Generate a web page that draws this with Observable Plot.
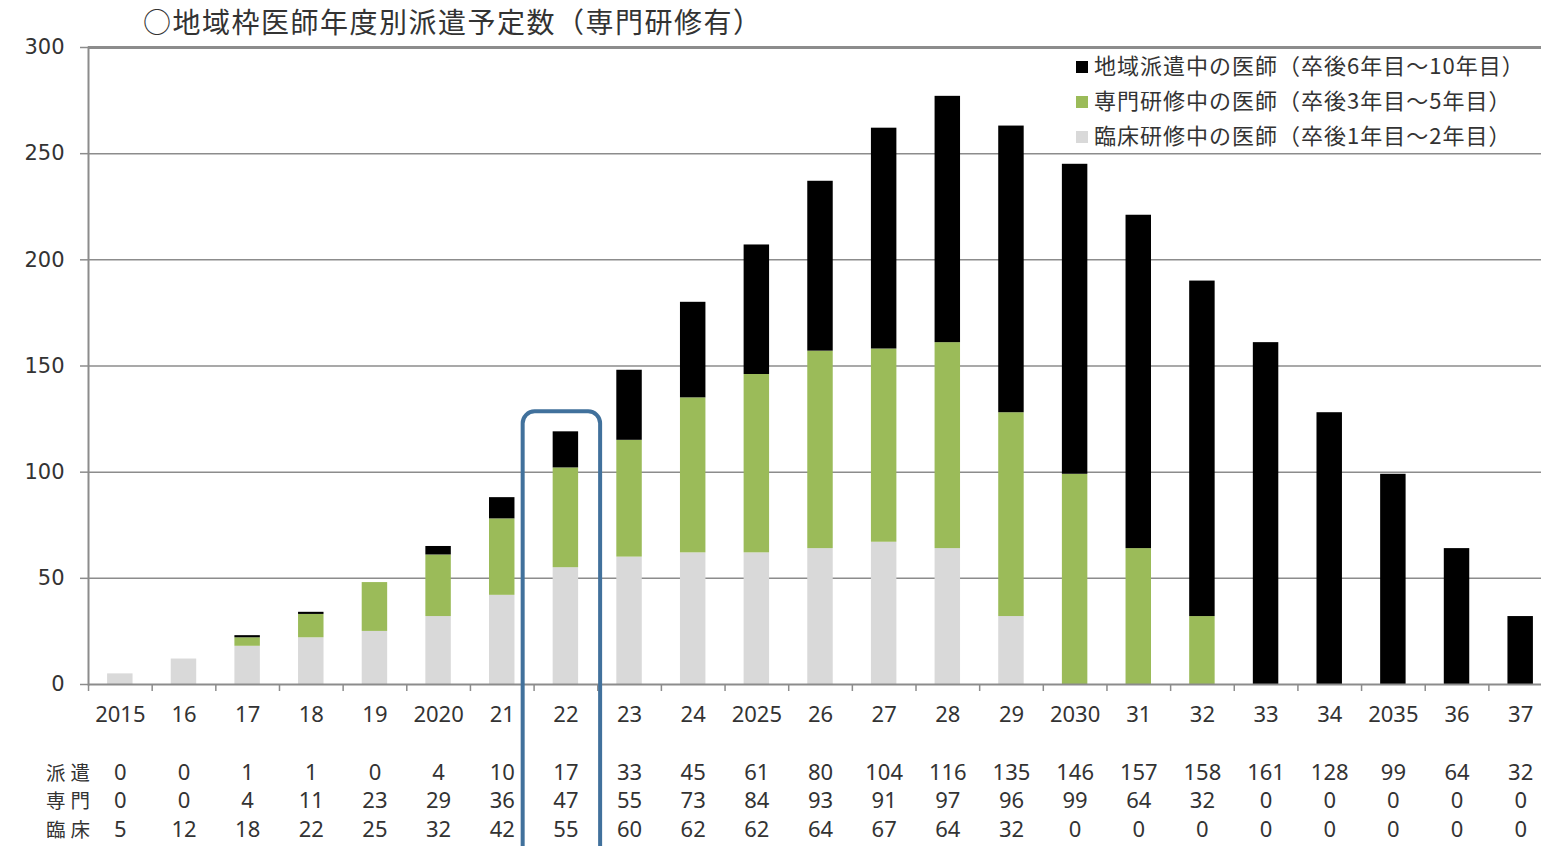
<!DOCTYPE html>
<html>
<head>
<meta charset="utf-8">
<script src="https://cdn.jsdelivr.net/npm/d3@7"></script>
<script src="https://cdn.jsdelivr.net/npm/@observablehq/plot@0.6"></script>
<style>
  html, body { margin: 0; padding: 0; background: #fff; overflow: hidden; }
  #wrap { position: relative; width: 1541px; height: 846px; overflow: hidden; }
  #title { position: absolute; left: 143px; top: 1px; font: 28px "Noto Sans CJK JP", sans-serif; color: #333; white-space: nowrap; letter-spacing: 1.5px; }
  #legend { position: absolute; left: 1070px; top: 47px; width: 480px; padding: 0 0 0 6px; }
  .item { font: 22px "Noto Sans CJK JP", sans-serif; color: #333; height: 35px; line-height: 35px; white-space: nowrap; letter-spacing: 1px; }
  .sw { display: inline-block; width: 12px; height: 12px; margin-right: 6px; vertical-align: 1px; }
  #chart { position: absolute; left: 0; top: 0; }
  #chart svg { max-width: none !important; }
  .rowlabel text { letter-spacing: 5px; }
</style>
</head>
<body>
<div id="wrap">
  <div id="chart"></div>
  <div id="title">○地域枠医師年度別派遣予定数（専門研修有）</div>
  <div id="legend"></div>
</div>
<script>
const years = ["2015","16","17","18","19","2020","21","22","23","24","2025","26","27","28","29","2030","31","32","33","34","2035","36","37"];
const haken  = [0,0,1,1,0,4,10,17,33,45,61,80,104,116,135,146,157,158,161,128,99,64,32];
const senmon = [0,0,4,11,23,29,36,47,55,73,84,93,91,97,96,99,64,32,0,0,0,0,0];
const rinsho = [5,12,18,22,25,32,42,55,60,62,62,64,67,64,32,0,0,0,0,0,0,0,0];
const seriesNames = ["臨床研修中の医師（卒後1年目～2年目）", "専門研修中の医師（卒後3年目～5年目）", "地域派遣中の医師（卒後6年目～10年目）"];
const seriesColors = ["#d9d9d9", "#9bbb59", "#000000"];
const rowLabels = ["派遣", "専門", "臨床"];
const yTicks = [0, 50, 100, 150, 200, 250, 300];
const highlightYear = "22";

const rows = [haken, senmon, rinsho];
const seriesValues = [rinsho, senmon, haken];
const data = [];
seriesNames.forEach((s, k) => years.forEach((y, i) => data.push({year: y, series: s, value: seriesValues[k][i]})));
const hi = years.indexOf(highlightYear);
const highlight = [{year: highlightYear, total: haken[hi] + senmon[hi] + rinsho[hi]}];

const grey = "#8c8c8c";
const numFont = "'Noto Sans', sans-serif";
const marks = [
  Plot.gridY(yTicks.filter(t => t > 0 && t < 300), {stroke: grey, strokeOpacity: 1, strokeWidth: 1.5}),
  Plot.ruleY([300], {stroke: grey, strokeWidth: 3}),
  Plot.barY(data, {x: "year", y: "value", fill: "series", order: seriesNames}),
  Plot.ruleY([0], {stroke: grey, strokeWidth: 2}),
  Plot.frame({anchor: "left", stroke: grey, strokeWidth: 2}),
  Plot.axisY({ticks: yTicks, tickSize: 8, tickPadding: 16, fontSize: 21, stroke: grey, strokeWidth: 1.5, fill: "#333", fontFamily: "'DejaVu Sans', sans-serif", label: null}),
  Plot.axisX({tickSize: 7, tickFormat: () => "", dx: -31.8, stroke: grey, strokeWidth: 1.5, label: null}),
  Plot.axisX({tickSize: 0, tickPadding: 22, fontSize: 22, fill: "#333", fontFamily: numFont, label: null}),
  Plot.barY(highlight, {x: "year", y1: 0, y2: "total", fill: "none", stroke: "#41719c", strokeWidth: 4, rx: 12,
    insetLeft: -30, insetRight: -22, insetTop: -20, insetBottom: -175})
];
rows.forEach((vals, r) => {
  marks.push(Plot.text(years, {x: d => d, text: (d, i) => String(vals[i]), frameAnchor: "bottom", dy: 95 + r * 28.5, fontSize: 22, fill: "#333", fontFamily: numFont}));
  marks.push(Plot.text([rowLabels[r]], {text: d => d, frameAnchor: "bottom-left", textAnchor: "middle", dx: -18, dy: 95 + r * 28.5, fontSize: 19.5, fill: "#333", fontFamily: "'Noto Sans CJK JP', sans-serif", className: "rowlabel"}));
});

const chart = Plot.plot({
  width: 1552,
  height: 846,
  marginLeft: 88,
  marginRight: 0,
  marginTop: 47,
  marginBottom: 162,
  x: {domain: years, paddingInner: 0.6, paddingOuter: 0.3, round: false, axis: null},
  y: {domain: [0, 300], axis: null},
  color: {domain: seriesNames, range: seriesColors},
  style: {overflow: "visible", background: "transparent", maxWidth: "none"},
  marks
});
document.getElementById("chart").appendChild(chart);

const legend = document.getElementById("legend");
[2, 1, 0].forEach(k => {
  const div = document.createElement("div");
  div.className = "item";
  const sw = document.createElement("span");
  sw.className = "sw";
  sw.style.background = seriesColors[k];
  div.appendChild(sw);
  div.appendChild(document.createTextNode(seriesNames[k]));
  legend.appendChild(div);
});
</script>
</body>
</html>
